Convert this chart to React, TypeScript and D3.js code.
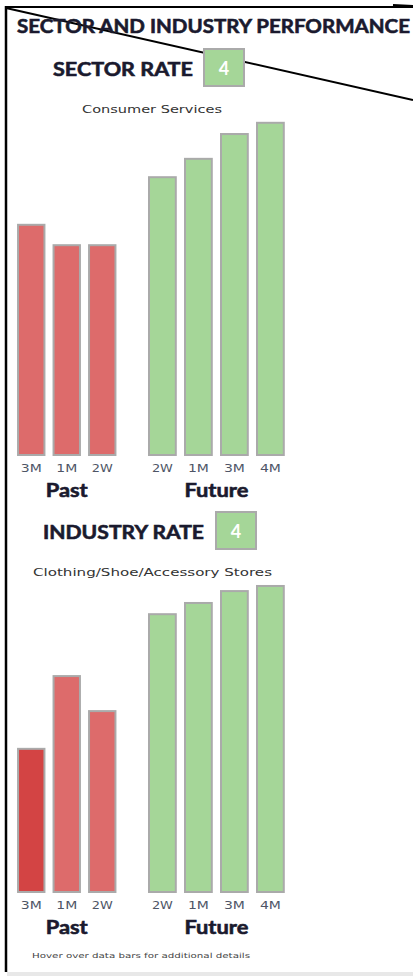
import { useRef, useEffect } from "react";
import * as d3 from "d3";

const pastPeriods = ["3M", "1M", "2W"];
const futurePeriods = ["2W", "1M", "3M", "4M"];

const sectorName = "Consumer Services";
const sectorRate = 4;
const sectorPast = [68, 62, 62];
const sectorFuture = [82, 87.4, 94.7, 98];

const industryName = "Clothing/Shoe/Accessory Stores";
const industryRate = 4;
const industryPast = [42.4, 63.8, 53.5];
const industryFuture = [82, 85.3, 88.8, 90.3];

const W = 413;
const H = 976;

type Panel = {
  label: string;
  labelX: number;
  labelW: number;
  rate: number;
  boxX: number;
  top: number;
  name: string;
  nameX: number;
  nameW: number;
  past: number[];
  future: number[];
  bottom: number;
};

const App = () => {
  const ref = useRef<SVGSVGElement>(null);

  useEffect(() => {
    if (!ref.current) return;
    const svg = d3.select(ref.current);
    svg.selectAll("*").remove();

    // frame lines
    svg.append("line").attr("x1", 6).attr("y1", 6).attr("x2", 6).attr("y2", 972)
      .attr("stroke", "#000").attr("stroke-width", 2.5);
    svg.append("line").attr("x1", 5).attr("y1", 7).attr("x2", W).attr("y2", 7)
      .attr("stroke", "#000").attr("stroke-width", 2);
    svg.append("line").attr("x1", 393).attr("y1", 5).attr("x2", W).attr("y2", 6)
      .attr("stroke", "#000").attr("stroke-width", 2);
    svg.append("line").attr("x1", 6).attr("y1", 8).attr("x2", W).attr("y2", 100)
      .attr("stroke", "#000").attr("stroke-width", 2);
    svg.append("rect").attr("x", 7).attr("y", 972).attr("width", W - 7).attr("height", 4)
      .attr("fill", "#e8e8e8");

    const title = "'Lato', 'Open Sans', sans-serif";
    const small = "'DejaVu Sans', Verdana, sans-serif";
    const ink = "#1a1a2e";

    // bold headings, thickened a little to match the heavier original face
    const heading = (sel: d3.Selection<SVGTextElement, unknown, null, undefined>, w: number) =>
      sel.attr("font-family", title).attr("font-weight", "bold").attr("font-size", 19.5)
        .attr("fill", ink).attr("stroke", ink).attr("stroke-width", 0.6)
        .attr("textLength", w).attr("lengthAdjust", "spacingAndGlyphs");

    heading(svg.append("text").attr("x", 17).attr("y", 33), 393)
      .text("SECTOR AND INDUSTRY PERFORMANCE");

    const y = d3.scaleLinear().domain([0, 100]).range([0, 340]);
    const xPast = d3.scaleBand().domain(pastPeriods).range([13.5, 120]).paddingInner(0.2).paddingOuter(0.1);
    const xFuture = d3.scaleBand().domain(futurePeriods).range([144.4, 288.4]).paddingInner(0.2).paddingOuter(0.1);

    const panels: Panel[] = [
      { label: "SECTOR RATE", labelX: 53, labelW: 140, rate: sectorRate, boxX: 203, top: 48,
        name: sectorName, nameX: 82, nameW: 140, past: sectorPast, future: sectorFuture, bottom: 455 },
      { label: "INDUSTRY RATE", labelX: 43, labelW: 161, rate: industryRate, boxX: 215, top: 511,
        name: industryName, nameX: 33, nameW: 239, past: industryPast, future: industryFuture, bottom: 892 },
    ];

    panels.forEach((p) => {
      const g = svg.append("g");
      heading(g.append("text").attr("x", p.labelX).attr("y", p.top + 28), p.labelW).text(p.label);
      g.append("rect").attr("x", p.boxX + 1).attr("y", p.top + 1).attr("width", 40).attr("height", 37)
        .attr("fill", "#a5d698").attr("stroke", "#aaaaaa").attr("stroke-width", 2);
      g.append("text").attr("x", p.boxX + 21).attr("y", p.top + 27).attr("text-anchor", "middle")
        .attr("font-family", title).attr("font-weight", "bold").attr("font-size", 18)
        .attr("fill", "#fff").text(p.rate);
      g.append("text").attr("x", p.nameX).attr("y", p.top + 65)
        .attr("font-family", small).attr("font-size", 11).attr("fill", "#333")
        .attr("textLength", p.nameW).attr("lengthAdjust", "spacingAndGlyphs").text(p.name);

      const groups = [
        { data: p.past, periods: pastPeriods, x: xPast, past: true, word: "Past", wordW: 42 },
        { data: p.future, periods: futurePeriods, x: xFuture, past: false, word: "Future", wordW: 64 },
      ];
      groups.forEach((grp) => {
        g.selectAll(null)
          .data(grp.data)
          .enter()
          .append("rect")
          .attr("x", (_, i) => (grp.x(grp.periods[i]) ?? 0) + 1)
          .attr("y", (d) => p.bottom - y(d) + 1)
          .attr("width", grp.x.bandwidth() - 2)
          .attr("height", (d) => y(d) - 1)
          .attr("fill", (d) => (grp.past ? (d < 50 ? "#d34444" : "#dd6b6b") : "#a5d698"))
          .attr("stroke", "#aaaaaa")
          .attr("stroke-width", 2);

        g.selectAll(null)
          .data(grp.periods)
          .enter()
          .append("text")
          .attr("x", (d) => (grp.x(d) ?? 0) + grp.x.bandwidth() / 2 - 10.5)
          .attr("y", p.bottom + 17)
          .attr("font-family", small).attr("font-size", 10.5).attr("fill", "#4e5566")
          .attr("textLength", 21).attr("lengthAdjust", "spacingAndGlyphs")
          .text((d) => d);

        const [r0, r1] = grp.x.range();
        const cx = (r0 + r1) / 2;
        heading(g.append("text").attr("x", cx - grp.wordW / 2).attr("y", p.bottom + 42), grp.wordW)
          .text(grp.word);
      });
    });

    svg.append("text").attr("x", 32).attr("y", 958)
      .attr("font-family", small).attr("font-size", 7).attr("fill", "#444")
      .attr("textLength", 218).attr("lengthAdjust", "spacingAndGlyphs")
      .text("Hover over data bars for additional details");
  }, []);

  return (
    <svg ref={ref} width={W} height={H}
      style={{ position: "absolute", left: 0, top: 0, background: "#fff" }} />
  );
};

export default App;
